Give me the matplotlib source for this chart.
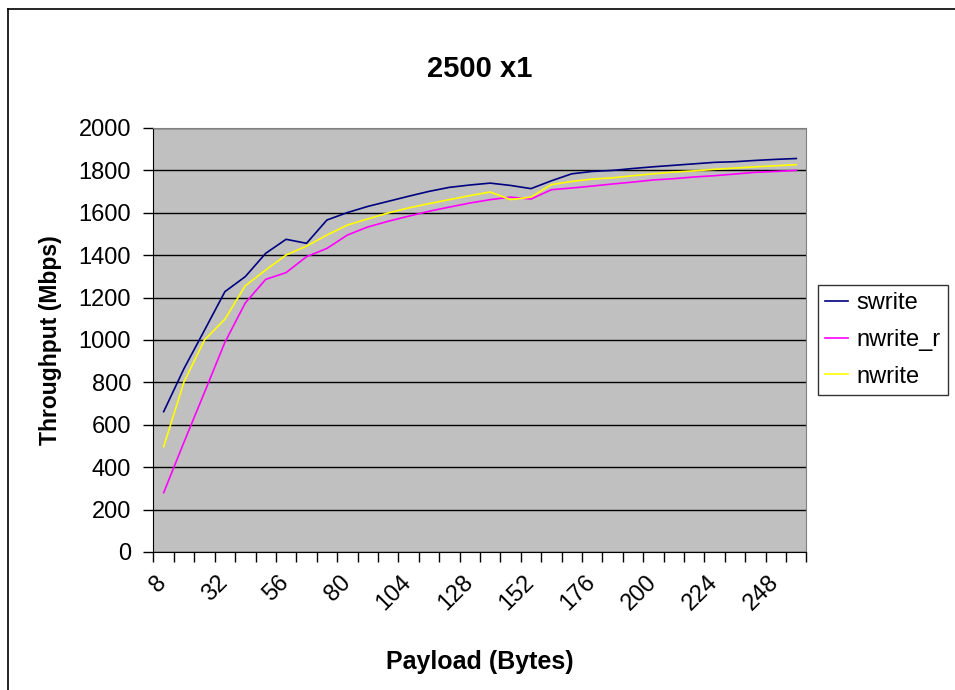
import numpy as np
import matplotlib
matplotlib.use('Agg')
import matplotlib.pyplot as plt
from matplotlib.lines import Line2D
from matplotlib.transforms import ScaledTranslation

plt.rcParams['font.family'] = ['Liberation Sans', 'DejaVu Sans']

# payload sizes in bytes, one category every 8 bytes
payload = list(range(8, 257, 8))

swrite = [662, 866, 1046, 1228, 1299, 1409, 1475, 1456, 1566, 1601,
          1630, 1654, 1678, 1701, 1720, 1731, 1740, 1729, 1714, 1751,
          1784, 1795, 1800, 1809, 1817, 1824, 1831, 1838, 1841, 1847,
          1852, 1856]
nwrite_r = [280, 519, 753, 989, 1175, 1286, 1318, 1393, 1432, 1495,
            1533, 1560, 1584, 1607, 1627, 1646, 1662, 1674, 1665, 1709,
            1717, 1726, 1736, 1745, 1755, 1761, 1769, 1775, 1783, 1791,
            1795, 1800]
nwrite = [497, 803, 1000, 1098, 1256, 1330, 1401, 1443, 1495, 1542,
          1571, 1599, 1623, 1643, 1662, 1681, 1698, 1662, 1674, 1733,
          1748, 1759, 1765, 1775, 1784, 1792, 1798, 1805, 1811, 1817,
          1822, 1827]

series = [('swrite', swrite, '#000080'),
          ('nwrite_r', nwrite_r, '#FF00FF'),
          ('nwrite', nwrite, '#FFFF00')]

fig = plt.figure(figsize=(9.55, 6.9), dpi=100)
ax = fig.add_axes([0.1607, 0.2, 0.6838, 0.6145])
ax.set_facecolor('#C0C0C0')

# outer chart frame (left and top edges)
fig.add_artist(Line2D([8 / 955, 8 / 955], [0, 1 - 9 / 690], color='black', lw=1.2,
                      transform=fig.transFigure))
fig.add_artist(Line2D([8 / 955, 1], [1 - 9 / 690, 1 - 9 / 690], color='black', lw=1.2,
                      transform=fig.transFigure))

xpos = np.arange(len(payload))
for name, vals, col in series:
    ax.plot(xpos, vals, color=col, lw=1.2, label=name, zorder=3)

ax.set_xlim(-0.5, len(payload) - 0.5)
ax.set_ylim(0, 2000)
ax.set_yticks(range(0, 2001, 200))
ax.yaxis.grid(True, color='black', lw=1.0)
ax.set_axisbelow(True)

# category labels every third payload, tick marks between categories
lab_idx = xpos[::3]
ax.set_xticks(lab_idx)
ax.set_xticklabels([str(payload[i]) for i in lab_idx], rotation=45,
                   ha='right', va='top', rotation_mode='anchor')
ax.set_xticks(np.arange(-0.5, len(payload)), minor=True)
ax.tick_params(axis='x', which='major', length=0, pad=14, labelsize=17)
ax.tick_params(axis='x', which='minor', length=7, width=1, direction='out')
ax.tick_params(axis='y', length=7, width=1, direction='out', labelsize=17, pad=9)
shift = ScaledTranslation(-0.08, 0, fig.dpi_scale_trans)
for lab in ax.get_xticklabels():
    lab.set_transform(lab.get_transform() + shift)

for s in ['top', 'right']:
    ax.spines[s].set_color('#808080')
for s in ['left', 'bottom']:
    ax.spines[s].set_color('black')

ax.set_title('2500 x1', fontsize=21, fontweight='bold', pad=37)
ax.set_xlabel('Payload (Bytes)', fontsize=18, fontweight='bold', labelpad=25)
ax.set_ylabel('Throughput (Mbps)', fontsize=16.5, fontweight='bold', labelpad=12)

leg = ax.legend(loc='center left', bbox_to_anchor=(1.017, 0.5), fontsize=17,
                frameon=True, fancybox=False, edgecolor='black',
                handlelength=1.0, handletextpad=0.35, borderpad=0.3,
                labelspacing=0.62, borderaxespad=0)
leg.get_frame().set_linewidth(1.0)

plt.savefig('out.png', dpi=100)
plt.close(fig)
